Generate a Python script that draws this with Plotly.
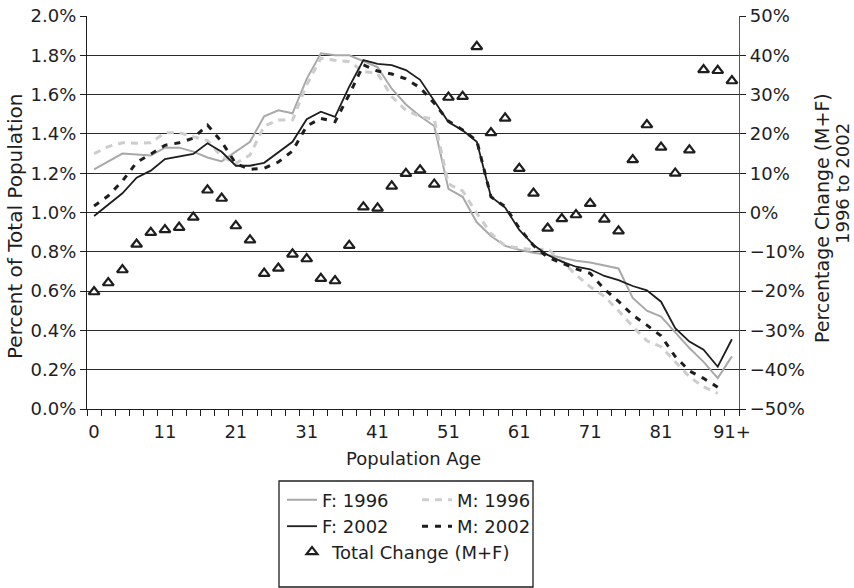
import plotly.graph_objects as go

# ---------------- data ----------------
age_index = list(range(46))  # 46 age groups: 0 ... 91+
tick_index = [0, 5, 10, 15, 20, 25, 30, 35, 40, 45]
tick_labels = ["0", "11", "21", "31", "41", "51", "61", "71", "81", "91+"]

f_1996 = [1.22, 1.26, 1.30, 1.295, 1.29, 1.33, 1.33, 1.31, 1.28, 1.26,
          1.31, 1.36, 1.49, 1.52, 1.505, 1.68, 1.81, 1.80, 1.80, 1.77,
          1.74, 1.63, 1.55, 1.49, 1.44, 1.12, 1.08, 0.95, 0.88, 0.83,
          0.81, 0.795, 0.785, 0.77, 0.755, 0.745, 0.73, 0.715, 0.565, 0.50,
          0.47, 0.39, 0.31, 0.24, 0.157, 0.268]
m_1996 = [1.30, 1.335, 1.355, 1.352, 1.355, 1.406, 1.406, 1.386, 1.366, 1.284,
          1.25, 1.293, 1.44, 1.471, 1.471, 1.65, 1.785, 1.775, 1.767, 1.717,
          1.708, 1.59, 1.52, 1.488, 1.475, 1.145, 1.11, 0.996, 0.894, 0.83,
          0.82, 0.81, 0.815, 0.755, 0.682, 0.622, 0.573, 0.50, 0.42, 0.347,
          0.317, 0.241, 0.164, 0.113, 0.08, None]
f_2002 = [0.982, 1.038, 1.098, 1.177, 1.213, 1.272, 1.284, 1.298, 1.352, 1.309,
          1.238, 1.238, 1.253, 1.305, 1.36, 1.475, 1.513, 1.487, 1.64, 1.776,
          1.756, 1.75, 1.725, 1.675, 1.564, 1.46, 1.418, 1.36, 1.08, 1.025,
          0.911, 0.835, 0.784, 0.75, 0.724, 0.711, 0.677, 0.656, 0.626, 0.604,
          0.546, 0.411, 0.343, 0.302, 0.215, 0.355]
m_2002 = [1.033, 1.085, 1.16, 1.255, 1.297, 1.342, 1.355, 1.378, 1.445, 1.36,
          1.248, 1.22, 1.225, 1.257, 1.313, 1.44, 1.479, 1.462, 1.60, 1.751,
          1.72, 1.705, 1.68, 1.635, 1.556, 1.465, 1.42, 1.366, 1.08, 1.03,
          0.92, 0.832, 0.772, 0.742, 0.713, 0.69, 0.61, 0.548, 0.478, 0.427,
          0.372, 0.267, 0.194, 0.156, 0.111, None]
total_change = [-20.2, -17.9, -14.6, -8.1, -5.1, -4.4, -3.8, -1.2, 5.7, 3.6,
                -3.4, -7.0, -15.5, -14.2, -10.6, -11.8, -16.8, -17.4, -8.4, 1.4,
                1.1, 6.7, 9.9, 10.8, 7.2, 29.3, 29.5, 42.2, 20.3, 24.0,
                11.2, 4.9, -4.0, -1.6, -0.6, 2.3, -1.7, -4.7, 13.4, 22.3,
                16.6, 10.0, 15.9, 36.3, 36.1, 33.5]

left_ticks = [0.0, 0.2, 0.4, 0.6, 0.8, 1.0, 1.2, 1.4, 1.6, 1.8, 2.0]

# ---------------- figure ----------------
FONT = "DejaVu Sans"
INK = "#1e1e1e"
W, H = 854, 588
L, R, T, B = 87, 115, 16, 179
PW, PH = W - L - R, H - T - B


def px(xp):
    return (xp - L) / PW


def py(yp):
    return (H - B - yp) / PH


fig = go.Figure()
fig.add_trace(go.Scatter(x=age_index, y=f_1996, mode="lines", name="F: 1996",
                         line=dict(color="#a9a9a9", width=2), legend="legend"))
fig.add_trace(go.Scatter(x=age_index, y=m_1996, mode="lines", name="M: 1996",
                         line=dict(color="#cdcdcd", width=3, dash="7px,6px"), legend="legend"))
fig.add_trace(go.Scatter(x=age_index, y=f_2002, mode="lines", name="F: 2002",
                         line=dict(color=INK, width=1.8), legend="legend2"))
fig.add_trace(go.Scatter(x=age_index, y=m_2002, mode="lines", name="M: 2002",
                         line=dict(color=INK, width=3, dash="6px,7px"), legend="legend2"))
fig.add_trace(go.Scatter(x=age_index, y=total_change, mode="markers", name="Total Change (M+F)",
                         yaxis="y2", legend="legend3",
                         marker=dict(symbol="triangle-up", size=9.5, color="white",
                                     line=dict(color=INK, width=2.2))))

legend_common = dict(orientation="h", xanchor="left", yanchor="top",
                     bgcolor="rgba(0,0,0,0)", borderwidth=0,
                     font=dict(family=FONT, size=18, color=INK))

fig.update_layout(
    width=W, height=H,
    margin=dict(l=L, r=R, t=T, b=B, autoexpand=False),
    paper_bgcolor="white", plot_bgcolor="white",
    font=dict(family=FONT, size=18, color=INK),
    showlegend=True,
    legend=dict(x=px(282), y=py(481.5), entrywidth=90, **legend_common),
    legend2=dict(x=px(282), y=py(508), entrywidth=90, **legend_common),
    legend3=dict(x=px(292), y=py(533.5), **legend_common),
    xaxis=dict(range=[-0.5, 45.5], tickmode="array", tickvals=tick_index, ticktext=tick_labels,
               ticks="", showline=True, linecolor=INK, linewidth=1.3, showgrid=False,
               zeroline=False, tickfont=dict(size=18), automargin=False, ticklabelstandoff=6,
               minor=dict(tickmode="array", tickvals=[i - 0.5 for i in range(len(age_index) + 1)],
                          ticks="outside", ticklen=6, tickcolor=INK, tickwidth=1.2, showgrid=False)),
    yaxis=dict(range=[0, 2.0], tickmode="array", tickvals=left_ticks,
               ticktext=[f"{v:.1f}%" for v in left_ticks],
               ticks="outside", ticklen=6, tickcolor=INK, tickwidth=1.2,
               showline=True, linecolor=INK, linewidth=1.3, automargin=False,
               showgrid=True, gridcolor="#2a2a2a", gridwidth=1.4, zeroline=False,
               tickfont=dict(size=18)),
    yaxis2=dict(range=[-50, 50], overlaying="y", side="right", tick0=0, dtick=10,
                ticksuffix="%", ticks="outside", ticklen=6, tickcolor=INK, tickwidth=1.2,
                showline=True, linecolor="#555555", linewidth=1.3, showgrid=False,
                zeroline=False, tickfont=dict(size=18), automargin=False),
    shapes=[dict(type="rect", xref="paper", yref="paper",
                 x0=px(279), x1=px(533), y0=py(587), y1=py(481),
                 line=dict(color=INK, width=1.3), fillcolor="rgba(0,0,0,0)")],
    annotations=[
        dict(text="Percent of Total Population", xref="paper", yref="paper",
             x=px(15), y=py(227), textangle=-90, showarrow=False,
             xanchor="center", yanchor="middle", font=dict(size=20)),
        dict(text="Percentage Change (M+F)", xref="paper", yref="paper",
             x=px(822), y=py(218), textangle=-90, showarrow=False,
             xanchor="center", yanchor="middle", font=dict(size=19)),
        dict(text="1996 to 2002", xref="paper", yref="paper",
             x=px(842), y=py(184), textangle=-90, showarrow=False,
             xanchor="center", yanchor="middle", font=dict(size=18)),
        dict(text="Population Age", xref="paper", yref="paper",
             x=px(413), y=py(459), showarrow=False,
             xanchor="center", yanchor="middle", font=dict(size=18)),
    ],
)

fig.write_html("out.html")
